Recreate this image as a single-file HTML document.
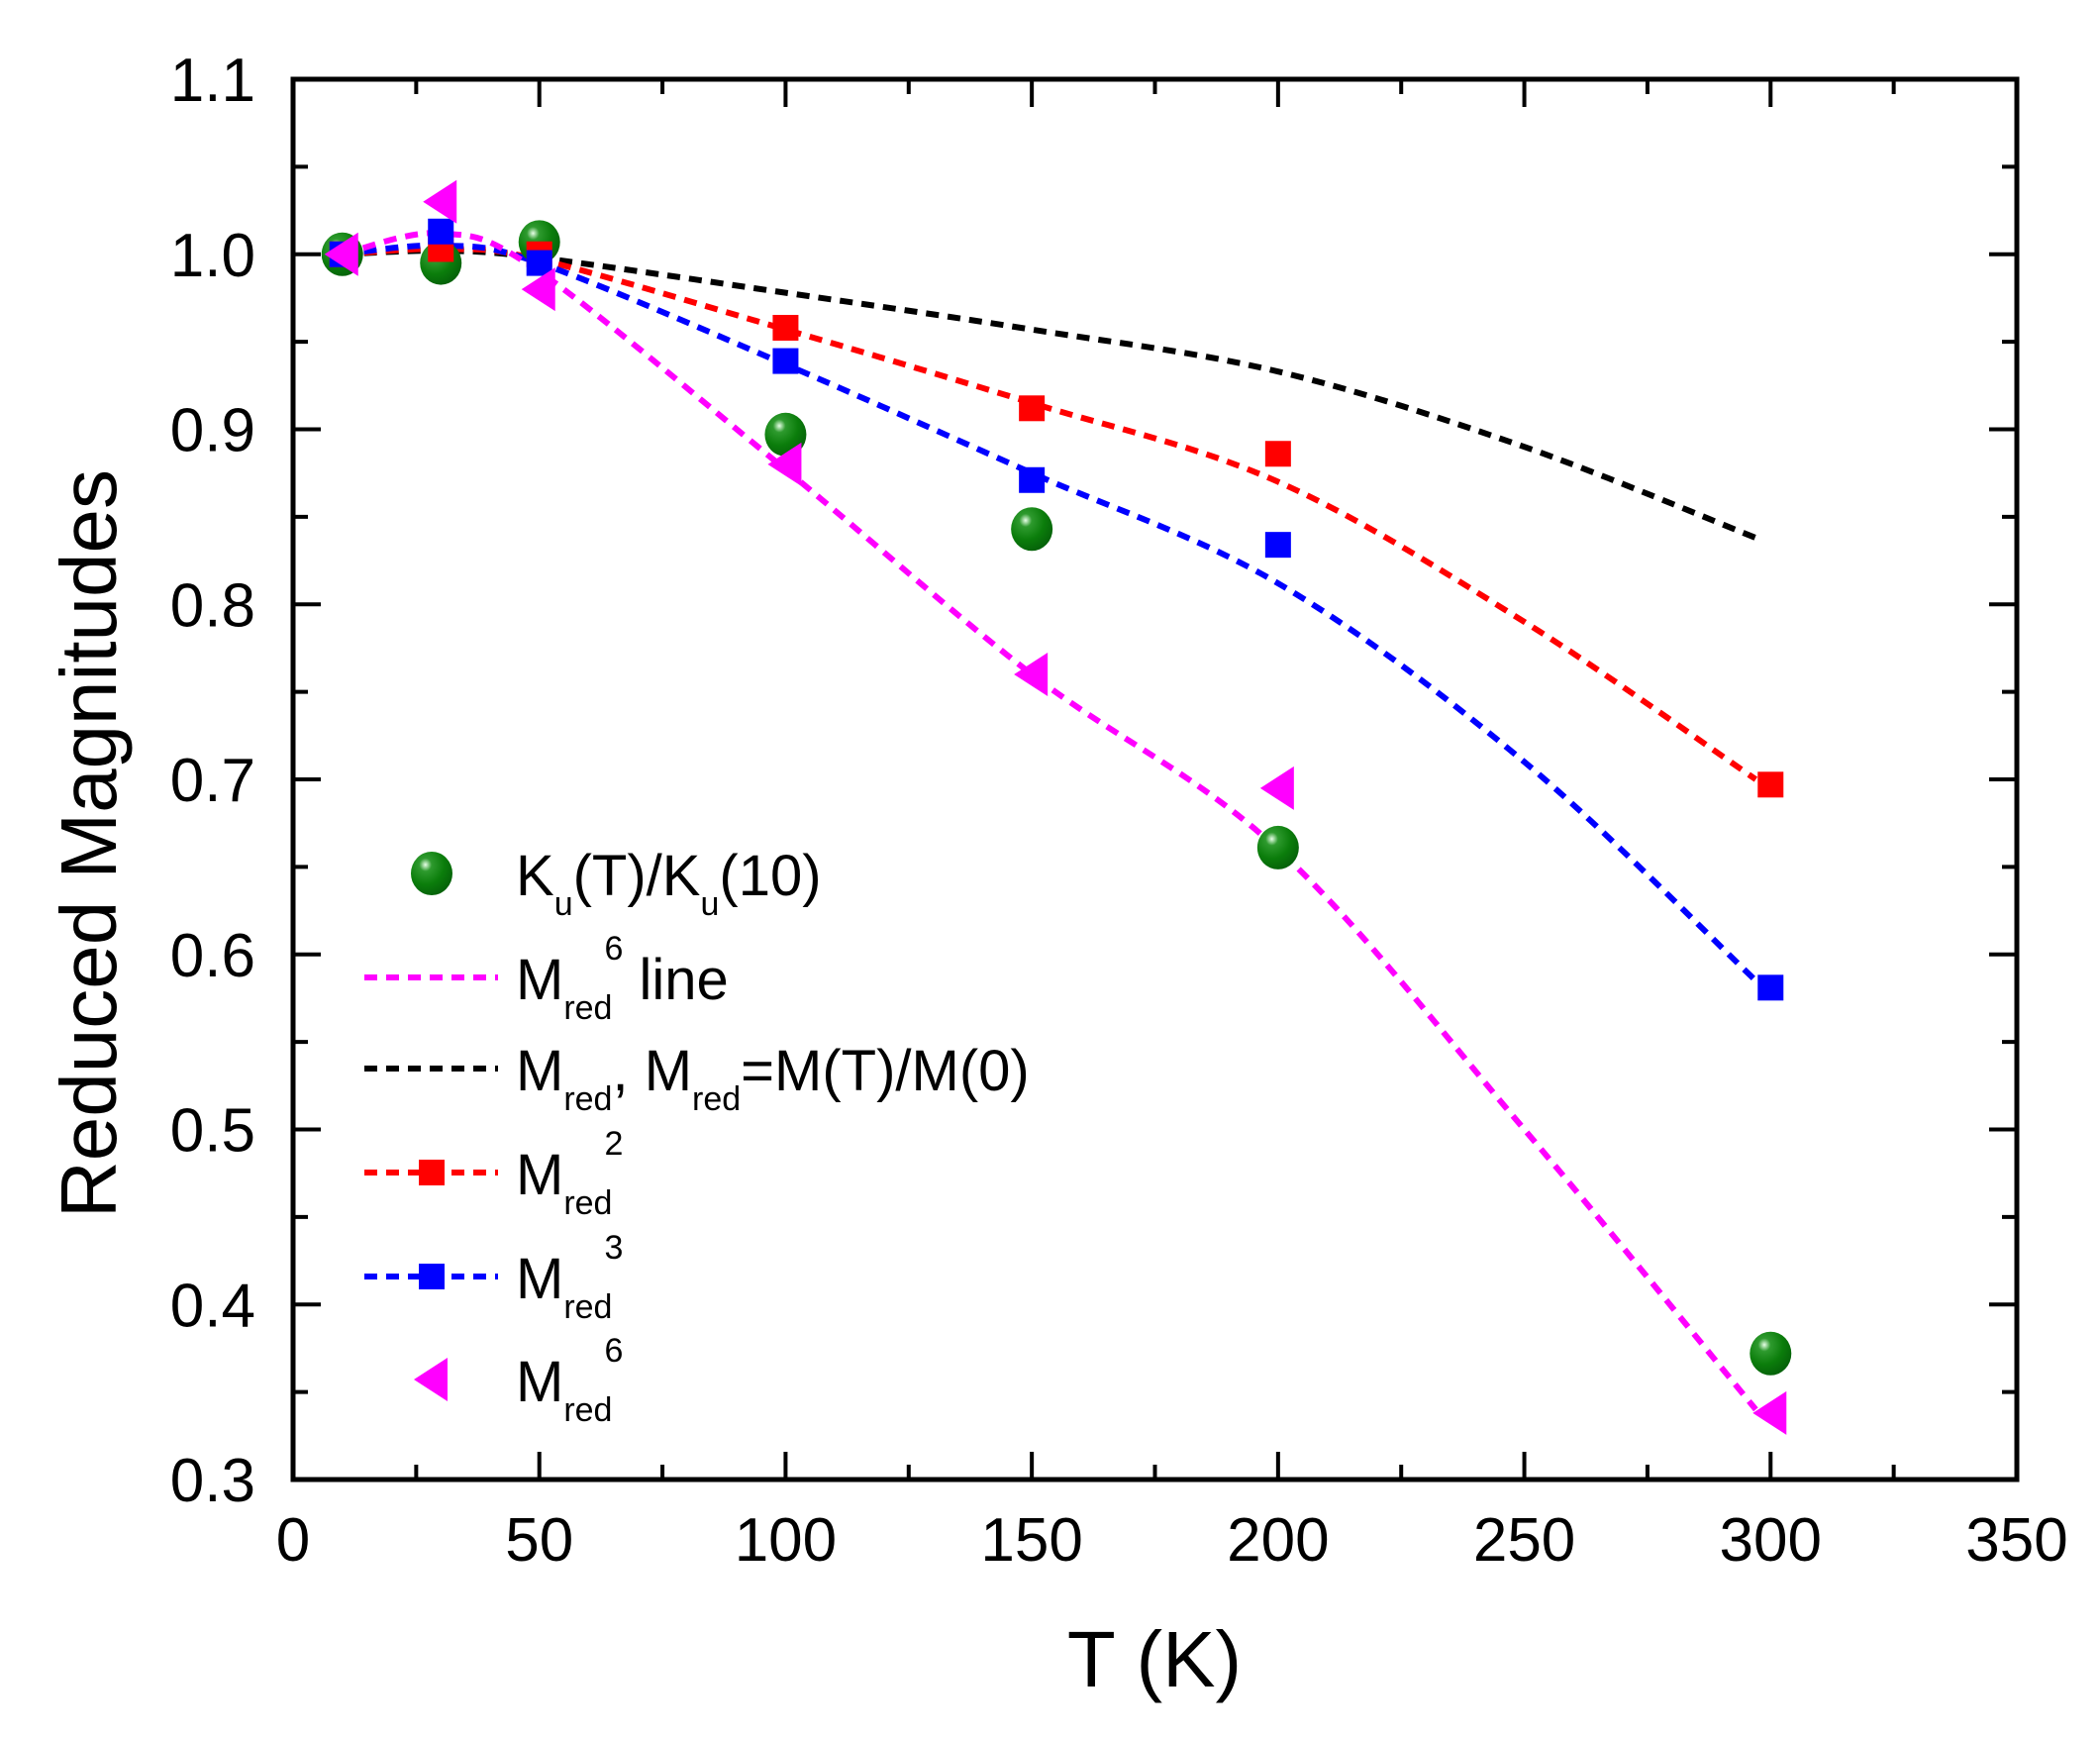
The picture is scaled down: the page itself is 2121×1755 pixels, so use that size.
<!DOCTYPE html>
<html><head><meta charset="utf-8"><style>
html,body{margin:0;padding:0;background:#fff;}
svg{display:block;font-family:"Liberation Sans",Arial,sans-serif;}
</style></head><body>
<svg id="chart" width="2121" height="1755" viewBox="0 0 2121 1755" xmlns="http://www.w3.org/2000/svg">
<defs>
<radialGradient id="ball" cx="0.35" cy="0.3" r="0.75">
<stop offset="0" stop-color="#e8ffe8"/><stop offset="0.2" stop-color="#2e9a2e"/><stop offset="0.6" stop-color="#0b7d0b"/><stop offset="1" stop-color="#05600a"/>
</radialGradient>
</defs>
<g id="plot"></g>
<g id="legend"></g>
<text x="1166" y="1703" font-size="80" text-anchor="middle">T (K)</text>
<text transform="translate(117,852) rotate(-90)" font-size="80" text-anchor="middle">Reduced Magnitudes</text>
</svg>
<script>
const kuT = [10, 30, 50, 100, 150, 200, 300];
const kuVals = [1.0, 0.995, 1.007, 0.897, 0.843, 0.661, 0.372];
const m2T = [10, 30, 50, 100, 150, 200, 300];
const m2Vals = [1.0, 1.003, 1.0, 0.958, 0.912, 0.886, 0.697];
const m3T = [10, 30, 50, 100, 150, 200, 300];
const m3Vals = [1.0, 1.013, 0.995, 0.939, 0.871, 0.834, 0.581];
const m6T = [10, 30, 50, 100, 150, 200, 300];
const m6Vals = [1.0, 1.03, 0.98, 0.88, 0.76, 0.695, 0.338];
const lineT = [10, 30, 50, 100, 150, 200, 250, 297];
const mredLine = [1.0, 1.002, 0.998, 0.978, 0.957, 0.933, 0.89, 0.838];
const m2Line = [1.0, 1.003, 0.997, 0.957, 0.915, 0.870, 0.79, 0.70];
const m3Line = [1.0, 1.005, 0.995, 0.937, 0.875, 0.812, 0.71, 0.585];
const m6Line = [1.0, 1.012, 0.99, 0.877, 0.76, 0.66, 0.50, 0.34];
const xTicks = [0, 50, 100, 150, 200, 250, 300, 350];
const yTicks = [0.3, 0.4, 0.5, 0.6, 0.7, 0.8, 0.9, 1.0, 1.1];

const L=296,R=2037,T=80,B=1494;
const xs=v=>L+(v-0)/(350-0)*(R-L);
const ys=v=>B-(v-0.3)/(1.1-0.3)*(B-T);
const NS="http://www.w3.org/2000/svg";
const plot=document.getElementById('plot');
function mk(tag,attrs,parent){const e=document.createElementNS(NS,tag);for(const k in attrs)e.setAttribute(k,attrs[k]);(parent||plot).appendChild(e);return e;}

for(let v=0;v<=350;v+=25){
  const major=v%50===0, len=major?28:15;
  const t1=mk('line',{x1:xs(v),x2:xs(v),y1:B,y2:B-len,stroke:'#000','stroke-width':4});
  
  
  const t2=mk('line',{x1:xs(v),x2:xs(v),y1:T,y2:T+len,stroke:'#000','stroke-width':4});
  
  
}
for(let i=0;i<=16;i++){
  const v=0.3+i*0.05, major=i%2===0, len=major?28:15;
  const t1=mk('line',{x1:L,x2:L+len,y1:ys(v),y2:ys(v),stroke:'#000','stroke-width':4});
  
  
  const t2=mk('line',{x1:R,x2:R-len,y1:ys(v),y2:ys(v),stroke:'#000','stroke-width':4});
  
  
}
xTicks.forEach(v=>{
  const t=mk('text',{x:xs(v),y:1576,'font-size':62,'text-anchor':'middle'});
  t.textContent=String(v);
  
  
});
yTicks.forEach(v=>{
  const t=mk('text',{x:258,y:ys(v)+22,'font-size':62,'text-anchor':'end'});
  t.textContent=v.toFixed(1);
  
  
});
const frame=mk('rect',{x:L,y:T,width:R-L,height:B-T,fill:'none',stroke:'#000','stroke-width':5});



function smooth(xv,yv){
  const p=xv.map((x,i)=>[xs(x),ys(yv[i])]);
  let d='M'+p[0][0]+','+p[0][1];
  for(let i=0;i<p.length-1;i++){
    const p0=p[i-1]||p[i],p1=p[i],p2=p[i+1],p3=p[i+2]||p2;
    const c1=[p1[0]+(p2[0]-p0[0])/6,p1[1]+(p2[1]-p0[1])/6];
    const c2=[p2[0]-(p3[0]-p1[0])/6,p2[1]-(p3[1]-p1[1])/6];
    d+=' C'+c1+' '+c2+' '+p2;
  }
  return d;
}
function dashed(vals,color,name){
  const e=mk('path',{d:smooth(lineT,vals),fill:'none',stroke:color,'stroke-width':6,'stroke-dasharray':'13 9'});
  
  
}
dashed(mredLine,'#000','mred-line');
dashed(m2Line,'#ff0000','mred2-line');
dashed(m3Line,'#0000ff','mred3-line');
dashed(m6Line,'#ff00ff','mred6-line');

function ball(x,y,parent){return mk('ellipse',{cx:x,cy:y,rx:21,ry:22,fill:'url(#ball)'},parent);}
function square(x,y,c,parent){return mk('rect',{x:x-13,y:y-13,width:26,height:26,fill:c},parent);}
function tri(x,y,parent){return mk('polygon',{points:(x-18)+','+y+' '+(x+16)+','+(y-22)+' '+(x+16)+','+(y+22),fill:'#ff00ff'},parent);}

kuT.forEach((t,i)=>{const e=ball(xs(t),ys(kuVals[i]));
  
  });
m2T.forEach((t,i)=>{const e=square(xs(t),ys(m2Vals[i]),'#ff0000');
  
  });
m3T.forEach((t,i)=>{const e=square(xs(t),ys(m3Vals[i]),'#0000ff');
  
  });
m6T.forEach((t,i)=>{const e=tri(xs(t),ys(m6Vals[i]));
  
  });

const lg=document.getElementById('legend');
const rows=[882,987,1079,1184,1289,1393];
function lline(y,c){mk('line',{x1:368,x2:503,y1:y,y2:y,stroke:c,'stroke-width':6,'stroke-dasharray':'13 9'},lg);}
function ltext(y,html){const t=mk('text',{x:521,y:y+22,'font-size':58},lg);t.innerHTML=html;return t;}
const S='<tspan dy="20" font-size="34">', U='<tspan dy="-20" font-size="58">';
ball(436,rows[0],lg);
ltext(rows[0],'K'+S+'u</tspan>'+U+'(T)/K</tspan>'+S+'u</tspan>'+U+'(10)</tspan>');
lline(rows[1],'#ff00ff');
ltext(rows[1],'M<tspan dy="20" font-size="34">red</tspan><tspan dy="-60" font-size="34" dx="-8">6</tspan><tspan dy="40" font-size="58"> line</tspan>');
lline(rows[2],'#000');
ltext(rows[2],'M'+S+'red</tspan>'+U+', M</tspan>'+S+'red</tspan>'+U+'=M(T)/M(0)</tspan>');
lline(rows[3],'#ff0000');square(436,rows[3],'#ff0000',lg);
ltext(rows[3],'M<tspan dy="20" font-size="34">red</tspan><tspan dy="-60" font-size="34" dx="-8">2</tspan>');
lline(rows[4],'#0000ff');square(436,rows[4],'#0000ff',lg);
ltext(rows[4],'M<tspan dy="20" font-size="34">red</tspan><tspan dy="-60" font-size="34" dx="-8">3</tspan>');
tri(436,rows[5],lg);
ltext(rows[5],'M<tspan dy="20" font-size="34">red</tspan><tspan dy="-60" font-size="34" dx="-8">6</tspan>');
</script>
</body></html>
